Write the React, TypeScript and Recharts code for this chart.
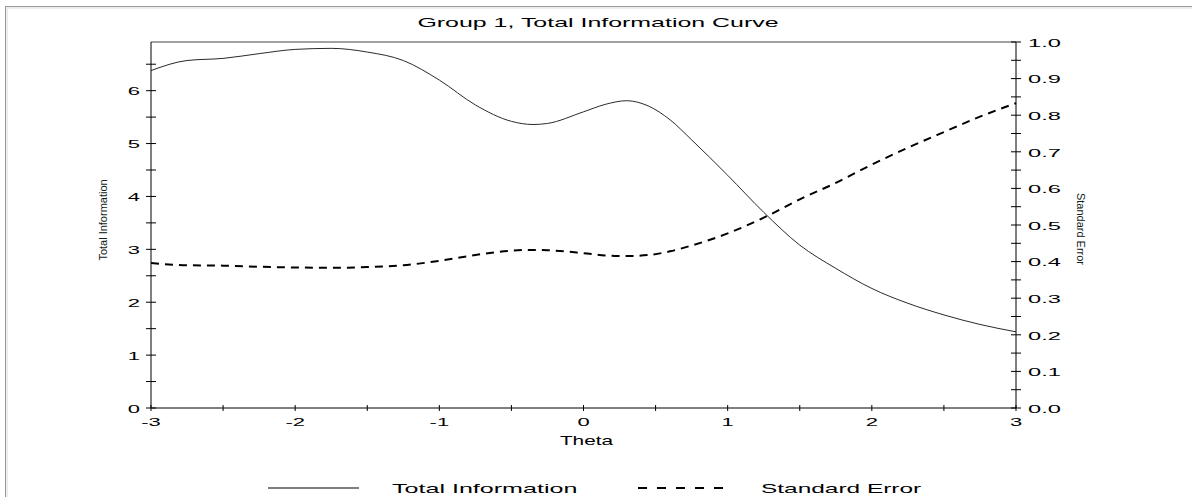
import React from 'react';
import { ComposedChart, Line, XAxis, YAxis, ReferenceLine, Legend, Label } from 'recharts';

const thetas = [-3, -2.75, -2.5, -2.25, -2, -1.75, -1.5, -1.25, -1, -0.75, -0.5, -0.35, -0.25, 0, 0.15, 0.3, 0.45, 0.6, 0.75, 1, 1.25, 1.5, 1.75, 2, 2.25, 2.5, 2.75, 3];
const totalInformation = [6.38, 6.57, 6.61, 6.70, 6.78, 6.80, 6.73, 6.57, 6.20, 5.73, 5.42, 5.36, 5.38, 5.60, 5.74, 5.81, 5.71, 5.45, 5.07, 4.40, 3.70, 3.08, 2.64, 2.26, 1.98, 1.76, 1.58, 1.44];
const standardError = [0.396, 0.390, 0.389, 0.386, 0.384, 0.383, 0.385, 0.390, 0.402, 0.418, 0.430, 0.432, 0.431, 0.423, 0.417, 0.415, 0.418, 0.428, 0.444, 0.477, 0.520, 0.570, 0.615, 0.665, 0.711, 0.754, 0.796, 0.833];

const xTicks = [-3, -2.5, -2, -1.5, -1, -0.5, 0, 0.5, 1, 1.5, 2, 2.5, 3];
const leftTicks = [0, 0.5, 1, 1.5, 2, 2.5, 3, 3.5, 4, 4.5, 5, 5.5, 6, 6.5];
const rightTicks = [0, 0.05, 0.1, 0.15, 0.2, 0.25, 0.3, 0.35, 0.4, 0.45, 0.5, 0.55, 0.6, 0.65, 0.7, 0.75, 0.8, 0.85, 0.9, 0.95, 1.0];

const title = 'Group 1, Total Information Curve';
const xTitle = 'Theta';
const leftTitle = 'Total Information';
const rightTitle = 'Standard Error';
const seriesNames = ['Total Information', 'Standard Error'];

const data = thetas.map((t, i) => ({ theta: t, info: totalInformation[i], se: standardError[i] }));

const FONT = '"Liberation Sans", Arial, sans-serif';

function LeftTick(props: any) {
  const { x, y, payload } = props;
  const v = payload.value;
  const major = Math.abs(v - Math.round(v)) < 1e-9;
  return (
    <g>
      <line x1={x - 5} x2={x + 5} y1={y} y2={y} stroke="#000" strokeWidth={1} />
      {major && (
        <text transform={`translate(${x - 11},${y + 4.5}) scale(2,1)`} textAnchor="end" fontSize={11} fontFamily={FONT} fill="#000">
          {String(v)}
        </text>
      )}
    </g>
  );
}

function RightTick(props: any) {
  const { x, y, payload } = props;
  const v = payload.value;
  const major = Math.round(v * 100) % 10 === 0;
  return (
    <g>
      <line x1={x - 5} x2={x + 5} y1={y} y2={y} stroke="#000" strokeWidth={1} />
      {major && (
        <text transform={`translate(${x + 12},${y + 4.7}) scale(2.15,1)`} textAnchor="start" fontSize={11} fontFamily={FONT} fill="#000">
          {v.toFixed(1)}
        </text>
      )}
    </g>
  );
}

function BottomTick(props: any) {
  const { x, y, payload } = props;
  const v = payload.value;
  const major = Math.abs(v - Math.round(v)) < 1e-9;
  return (
    <g>
      <line x1={x} x2={x} y1={y - 3} y2={y + 3} stroke="#000" strokeWidth={1} />
      {major && (
        <text transform={`translate(${x},${y + 18}) scale(2,1)`} textAnchor="middle" fontSize={11} fontFamily={FONT} fill="#000">
          {String(v)}
        </text>
      )}
    </g>
  );
}

function LegendContent() {
  return (
    <svg width={1192} height={20} style={{ display: 'block' }}>
      <line x1={268} x2={359} y1={10} y2={10} stroke="#555" strokeWidth={1.5} />
      <text transform="translate(392,14.5) scale(1.93,1)" fontSize={13} fontFamily={FONT} fill="#000">{seriesNames[0]}</text>
      <line x1={638} x2={723} y1={10} y2={10} stroke="#000" strokeWidth={2} strokeDasharray="9 10" />
      <text transform="translate(761,14.5) scale(1.88,1)" fontSize={13} fontFamily={FONT} fill="#000">{seriesNames[1]}</text>
    </svg>
  );
}

export default function App() {
  return (
    <div style={{ position: 'absolute', left: 0, top: 0, width: 1192, height: 497, background: '#fff', overflow: 'hidden' }}>
      <div
        style={{
          position: 'absolute',
          left: 5,
          top: 6,
          width: 1192,
          height: 497,
          borderLeft: '1px solid #9a9a9a',
          borderTop: '1px solid #9a9a9a',
          boxShadow: 'inset 2px 2px 0 #ededed',
        }}
      />
      <svg width={1192} height={40} style={{ position: 'absolute', left: 0, top: 0 }}>
        <text transform="translate(598,27) scale(1.92,1)" textAnchor="middle" fontSize={13} fontFamily={FONT} fill="#000">
          {title}
        </text>
      </svg>
      <div style={{ position: 'absolute', left: 0, top: 0 }}>
        <ComposedChart width={1192} height={497} data={data} margin={{ top: 42, left: 91, right: 116, bottom: 39 }}>
          <XAxis
            dataKey="theta"
            type="number"
            domain={[-3, 3]}
            ticks={xTicks}
            interval={0}
            tick={<BottomTick />}
            tickLine={false}
            tickSize={0}
            tickMargin={0}
            height={30}
            axisLine={{ stroke: '#000' }}
          >
            <Label
              content={(p: any) => {
                const vb = p.viewBox || {};
                return (
                  <text transform={`translate(${vb.x + vb.width / 2 + 3},${vb.y + 37}) scale(1.6,1)`} textAnchor="middle" fontSize={13} fontFamily={FONT} fill="#000">
                    {xTitle}
                  </text>
                );
              }}
            />
          </XAxis>
          <YAxis
            yAxisId="left"
            orientation="left"
            type="number"
            domain={[0, 6.92]}
            ticks={leftTicks}
            interval={0}
            tick={<LeftTick />}
            tickLine={false}
            tickSize={0}
            tickMargin={0}
            width={60}
            axisLine={{ stroke: '#000' }}
          >
            <Label
              content={(p: any) => {
                const vb = p.viewBox || {};
                const cx = vb.x + 16;
                const cy = vb.y + vb.height / 2 - 5;
                return (
                  <text transform={`translate(${cx},${cy}) rotate(-90) scale(1.1,1)`} textAnchor="middle" fontSize={10} fontFamily={FONT} fill="#102020">
                    {leftTitle}
                  </text>
                );
              }}
            />
          </YAxis>
          <YAxis
            yAxisId="right"
            orientation="right"
            type="number"
            domain={[0, 1]}
            ticks={rightTicks}
            interval={0}
            tick={<RightTick />}
            tickLine={false}
            tickSize={0}
            tickMargin={0}
            width={60}
            axisLine={{ stroke: '#000' }}
          >
            <Label
              content={(p: any) => {
                const vb = p.viewBox || {};
                const cx = vb.x + 61;
                const cy = vb.y + vb.height / 2 + 4;
                return (
                  <text transform={`translate(${cx},${cy}) rotate(90) scale(1.1,1)`} textAnchor="middle" fontSize={10} fontFamily={FONT} fill="#102020">
                    {rightTitle}
                  </text>
                );
              }}
            />
          </YAxis>
          <ReferenceLine yAxisId="right" y={1} stroke="#444" strokeWidth={1} />
          <Line
            yAxisId="left"
            dataKey="info"
            name={seriesNames[0]}
            type="monotone"
            stroke="#2a2a2a"
            strokeWidth={1}
            dot={false}
            activeDot={false}
            isAnimationActive={false}
          />
          <Line
            yAxisId="right"
            dataKey="se"
            name={seriesNames[1]}
            type="monotone"
            stroke="#000"
            strokeWidth={2}
            strokeDasharray="8 6"
            dot={false}
            activeDot={false}
            isAnimationActive={false}
          />
          <Legend
            verticalAlign="bottom"
            content={<LegendContent />}
            wrapperStyle={{ left: 0, top: 478, width: 1192, height: 20 }}
          />
        </ComposedChart>
      </div>
    </div>
  );
}
